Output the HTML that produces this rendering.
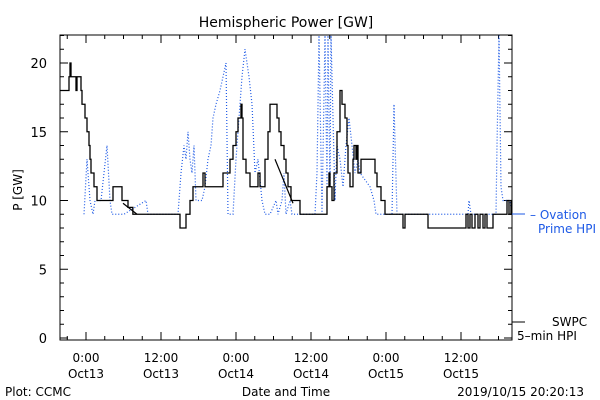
<!DOCTYPE html>
<html><head><meta charset="utf-8"><style>
body{margin:0;background:#fff;}
svg{display:block;font-family:"DejaVu Sans","Liberation Sans",sans-serif;}
</style></head><body>
<svg id="chart" width="600" height="400" viewBox="0 0 600 400">
<rect width="600" height="400" fill="#fff"/>
<text x="286" y="27" font-size="14" text-anchor="middle">Hemispheric Power [GW]</text>
<g id="axes"></g>
<g id="series"></g>
<rect x="60" y="35" width="452" height="305" fill="none" stroke="#000" stroke-width="1"/>
<text x="22" y="190" font-size="12" text-anchor="middle" transform="rotate(-90 22 190)">P [GW]</text>
<text x="286" y="396" font-size="12" text-anchor="middle">Date and Time</text>
<text x="5" y="396" font-size="12">Plot: CCMC</text>
<text x="584" y="396" font-size="12" text-anchor="end">2019/10/15 20:20:13</text>
<line x1="512" y1="214" x2="525" y2="214" stroke="#1e5ae6"/>
<text x="530" y="219" font-size="12" fill="#1e5ae6">– Ovation</text>
<text x="538" y="233" font-size="12" fill="#1e5ae6">Prime HPI</text>
<line x1="512" y1="322" x2="525" y2="322" stroke="#000"/>
<text x="552" y="326" font-size="12">SWPC</text>
<text x="517" y="340" font-size="12">5–min HPI</text>
</svg>
<script>
const yTicks=[0,5,10,15,20];
const xTickHours=[0,12,24,36,48,60];
const xTickTimes=["0:00","12:00","0:00","12:00","0:00","12:00"];
const xTickDates=["Oct13","Oct13","Oct14","Oct14","Oct15","Oct15"];
const swpcHours=[-4.16,-2.72,-2.56,-2.4,-1.6,-1.44,-0.8,-0.64,-0.16,0.16,0.48,0.64,0.8,1.28,1.76,4.32,5.76,6.72,7.5,15.04,16,16.64,17.12,18.72,19.04,21.92,23.04,23.52,24,24.32,24.8,24.96,25.12,25.6,26.24,27.52,27.84,28.64,29.12,29.44,30.56,30.88,31.2,31.68,32,32.32,32.8,34.24,38.56,38.88,39.04,39.36,39.68,40.16,40.64,40.96,41.44,41.76,41.92,42.24,42.72,42.88,43.2,43.36,43.52,44,46.24,46.56,47.2,47.84,50.72,51.04,54.72,60.8,61.12,61.44,61.76,62.24,62.72,63.04,63.52,63.84,64.16,65.12,67.36,67.68,68];
const swpcValues=[18,19,20,19,18,19,18,17,16,15,14,13,12,11,10,11,10,9.5,9,8,9,10,11,12,11,12,13,14,15,16,17,16,13,12,11,12,11,13,15,17,16,15,14,13,12,11,10,9,11,12,11,10,12,15,18,17,16,14,12,11,13,14,13,14,12,13,12,11,10,9,8,9,8,9,8,9,8,9,8,9,8,9,8,9,10,9,10];
const trend1Hours=[5.92,8.16];
const trend1Values=[9.8,9];
const trend2Hours=[30.24,33.12];
const trend2Values=[13.0,9.8];
const ovationX=[84,87,90,93,95,101,104,107,110,112,118,124,146,148,178,181,184,186,188,190,192,194,196,202,205,208,211,213,216,220,226,228,233,236,239,242,245,249,252,255,258,262,265,270,276,278,282,284,286,290,292,315,317,319,322,325,327,328,330,331,335,337,340,343,346,349,352,355,358,360,370,374,376,392,394,397,400,468,469,471,496,497,499,501,503,510,512];
const ovationHours=ovationX.map(x=>(x-86)/6.25);
const ovationValues=[9,13,10,9,10,10,12,14,10,9,9,9,10,9,9,12,14,13,15,13,12,14,10,10,11,13,14,16,17,18,20,9,9,13,16,19,21,19,17,12,13,10,9,9,10,9,10,12,9,10,9,9,12,22,9,22,11,22,11,22,10,14,13,11,14,16,14,12,13,12,11,10,9,9,17,9,9,9,10,9,9,14,22,11,10,10,9];
const NS='http://www.w3.org/2000/svg';
const L=60,R=512,T=35,B=340;
const xs=h=>86+h*6.25;
const ys=v=>Math.max(T,338-v*13.75);
const ax=document.getElementById('axes'),sr=document.getElementById('series');
function mk(tag,at,par){const e=document.createElementNS(NS,tag);for(const k in at)e.setAttribute(k,at[k]);par.appendChild(e);return e;}
for(let v=0;v<=22;v++){const y=338-v*13.75;const len=v%5===0?8:4;
 const t=mk('line',{x1:L,y1:y,x2:L+len,y2:y,stroke:'#000'},ax);
 
 
 const t2=mk('line',{x1:R,y1:y,x2:R-len,y2:y,stroke:'#000'},ax);
 
 }
yTicks.forEach(v=>{const t=mk('text',{x:47,y:338-v*13.75+5,'font-size':13,'text-anchor':'end'},ax);t.textContent=v;
 
 });
for(let h=-3;h<=66;h+=3){const x=xs(h);const len=h%12===0?8:4;
 const t=mk('line',{x1:x,y1:B,x2:x,y2:B-len,stroke:'#000'},ax);
 
 
 const t2=mk('line',{x1:x,y1:T,x2:x,y2:T+len,stroke:'#000'},ax);
 
 }
xTickHours.forEach((h,i)=>{const a=mk('text',{x:xs(h),y:362,'font-size':12,'text-anchor':'middle'},ax);a.textContent=xTickTimes[i];
 
 
 const b=mk('text',{x:xs(h),y:378,'font-size':12,'text-anchor':'middle'},ax);b.textContent=xTickDates[i];
 
 });
function stepPath(hs,vs){let d='';for(let i=0;i<hs.length;i++){const x=Math.min(R,xs(hs[i])),y=ys(vs[i]);d+=(i?`H${x}V${y}`:`M${x},${y}`);}return d+`H${R}`;}
function linePath(hs,vs){return hs.map((h,i)=>(i?'L':'M')+Math.min(R,xs(h))+','+ys(vs[i])).join('');}
const ov=mk('path',{d:linePath(ovationHours,ovationValues),fill:'none',stroke:'#1e5ae6','stroke-width':1.2,'stroke-dasharray':'1,2'},sr);


const sw=mk('path',{d:stepPath(swpcHours,swpcValues),fill:'none',stroke:'#000','stroke-width':1.3},sr);


const tr1=mk('path',{d:linePath(trend1Hours,trend1Values),fill:'none',stroke:'#000','stroke-width':1.2},sr);


const tr2=mk('path',{d:linePath(trend2Hours,trend2Values),fill:'none',stroke:'#000','stroke-width':1.2},sr);


</script>
</body></html>
